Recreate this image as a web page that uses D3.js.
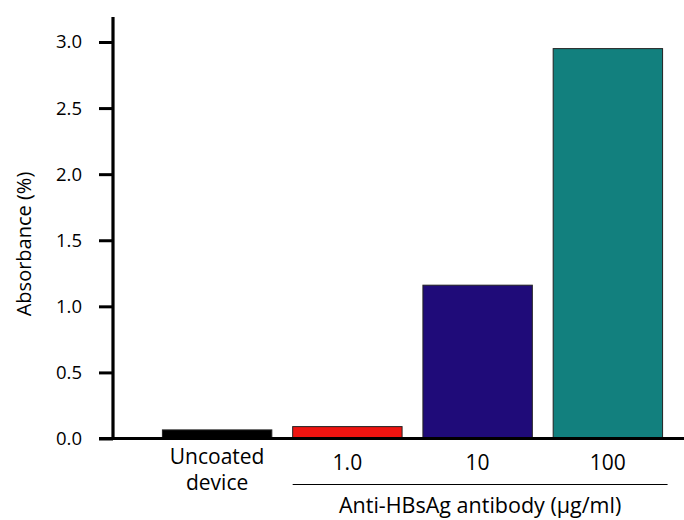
<!DOCTYPE html>
<html>
<head>
<meta charset="utf-8">
<script src="https://cdn.jsdelivr.net/npm/d3@7"></script>
<style>
  html, body { margin: 0; padding: 0; background: #fff; }
  svg { display: block; font-family: "Open Sans", "Noto Sans", sans-serif; }
</style>
</head>
<body>
<svg id="chart" width="684" height="520"></svg>
<script>
// Absorbance for each coating condition
const categories = ["Uncoated device", "1.0", "10", "100"];
const absorbance = [0.065, 0.09, 1.16, 2.95];
const barColors = ["#000000", "#ee1410", "#1f0b79", "#12807e"];
const yTicks = [0, 0.5, 1.0, 1.5, 2.0, 2.5, 3.0];
const groupLabel = "Anti-HBsAg antibody (µg/ml)";
const yTitle = "Absorbance (%)";

const svg = d3.select("#chart");

const x = d3.scaleBand()
  .domain(categories)
  .range([152, 673])
  .paddingInner(0.16)
  .paddingOuter(0.08);

const y = d3.scaleLinear()
  .domain([0, 3.0])
  .range([438.5, 42]);

// Bars
svg.append("g")
  .selectAll("rect")
  .data(categories)
  .join("rect")
  .attr("x", d => x(d))
  .attr("width", x.bandwidth())
  .attr("y", (d, i) => y(absorbance[i]))
  .attr("height", (d, i) => y(0) - y(absorbance[i]))
  .attr("fill", (d, i) => barColors[i])
  .attr("stroke", "#222")
  .attr("stroke-width", 1);

// Y axis
const yAxis = d3.axisLeft(y)
  .tickValues(yTicks)
  .tickFormat(d3.format(".1f"))
  .tickSize(14)
  .tickPadding(17);

const yg = svg.append("g")
  .attr("transform", "translate(113,0)")
  .call(yAxis);
yg.select(".domain").remove();
yg.selectAll(".tick line").attr("stroke", "#000").attr("stroke-width", 3);
yg.selectAll(".tick text")
  .attr("fill", "#000")
  .style("font-size", "18.5px")
  .style("font-family", "'Open Sans', 'Noto Sans', sans-serif");

// Vertical axis line
svg.append("line")
  .attr("x1", 113).attr("x2", 113)
  .attr("y1", 17).attr("y2", y(0) + 1.5)
  .attr("stroke", "#000").attr("stroke-width", 3.2);

// Baseline
svg.append("line")
  .attr("x1", 99).attr("x2", 684)
  .attr("y1", y(0)).attr("y2", y(0))
  .attr("stroke", "#000").attr("stroke-width", 3);

// Y axis title
svg.append("text")
  .attr("transform", `translate(31,${244}) rotate(-90)`)
  .attr("text-anchor", "middle")
  .style("font-size", "20px")
  .attr("fill", "#000")
  .text(yTitle);

// Category labels
const labels = svg.append("g")
  .style("font-size", "21px")
  .attr("fill", "#000")
  .attr("text-anchor", "middle");

categories.forEach(c => {
  const cx = x(c) + x.bandwidth() / 2;
  const parts = c === "Uncoated device" ? ["Uncoated", "device"] : [c];
  parts.forEach((p, j) => {
    labels.append("text")
      .attr("x", cx)
      .attr("y", parts.length > 1 ? 464 + j * 26 : 470)
      .text(p);
  });
});

// Group bracket line and label
const gx0 = x("1.0");
const gx1 = x("100") + x.bandwidth() + 5;
svg.append("line")
  .attr("x1", gx0).attr("x2", gx1)
  .attr("y1", 484.5).attr("y2", 484.5)
  .attr("stroke", "#000").attr("stroke-width", 1.2);

svg.append("text")
  .attr("x", (gx0 + gx1) / 2)
  .attr("y", 513)
  .attr("text-anchor", "middle")
  .style("font-size", "21.5px")
  .attr("fill", "#000")
  .text(groupLabel);
</script>
</body>
</html>
